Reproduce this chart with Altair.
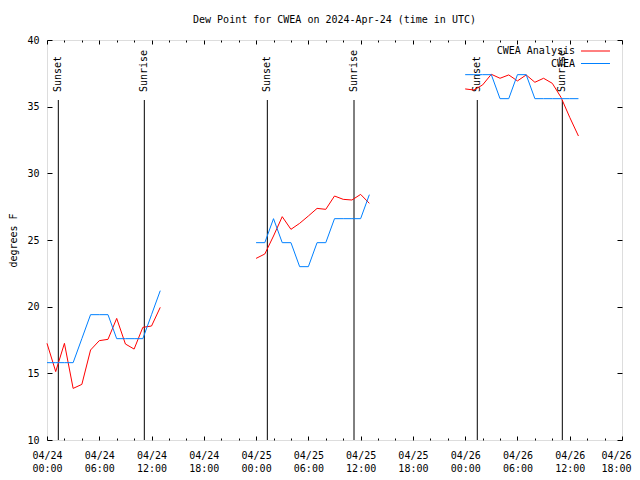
import altair as alt
import pandas as pd
import json

FONT = "DejaVu Sans Mono"

TITLE = "Dew Point for CWEA on 2024-Apr-24 (time in UTC)"
Y_TITLE = "degrees F"

SERIES_NAMES = ["CWEA Analysis", "CWEA"]
SERIES_COLORS = ["#ff0000", "#0080ff"]

# hours since 2024-04-24 00:00 UTC
HOURS_DAY1 = list(range(0, 14))
HOURS_DAY2 = list(range(24, 38))
HOURS_DAY3 = list(range(48, 62))

ANALYSIS_DAY1 = [17.25, 15.13, 17.25, 13.87, 14.17, 16.75, 17.45, 17.55, 19.12, 17.2, 16.82, 18.45, 18.55, 19.95]
ANALYSIS_DAY2 = [23.62, 23.95, 25.3, 26.75, 25.8, 26.25, 26.8, 27.37, 27.3, 28.3, 28.05, 28.0, 28.42, 27.75]
ANALYSIS_DAY3 = [36.33, 36.25, 36.63, 37.43, 37.13, 37.38, 36.93, 37.38, 36.83, 37.13, 36.75, 35.7, 34.2, 32.8]

OBS_DAY1 = [15.8, 15.8, 15.8, 15.8, 17.6, 19.4, 19.4, 19.4, 17.6, 17.6, 17.6, 17.6, 19.4, 21.2]
OBS_DAY2 = [24.8, 24.8, 26.6, 24.8, 24.8, 23.0, 23.0, 24.8, 24.8, 26.6, 26.6, 26.6, 26.6, 28.4]
OBS_DAY3 = [37.4, 37.4, 37.4, 37.4, 35.6, 35.6, 37.4, 37.4, 35.6, 35.6, 35.6, 35.6, 35.6, 35.6]

EVENT_NAMES = ["Sunset", "Sunrise", "Sunset", "Sunrise", "Sunset", "Sunrise"]
EVENT_HOURS = [1.30, 11.17, 25.29, 35.24, 49.39, 59.15]

X_MAJOR = list(range(0, 67, 6))
X_MINOR = [h for h in range(0, 67, 2) if h % 6]
X_DATES = ["04/24"] * 4 + ["04/25"] * 4 + ["04/26"] * 4
X_TIMES = ["00:00", "06:00", "12:00", "18:00"] * 3
Y_TICKS = [10, 15, 20, 25, 30, 35, 40]

WIDTH, HEIGHT = 575, 400
X_MAJ_TICK, X_MIN_TICK, Y_TICK = 4, 2, 5

rows = []
for seg, (hrs, vals) in enumerate(zip([HOURS_DAY1, HOURS_DAY2, HOURS_DAY3],
                                      [ANALYSIS_DAY1, ANALYSIS_DAY2, ANALYSIS_DAY3])):
    for h, v in zip(hrs, vals):
        rows.append({"hour": h, "value": v, "series": SERIES_NAMES[0], "segment": seg})
df_red = pd.DataFrame(rows)
rows = []
for seg, (hrs, vals) in enumerate(zip([HOURS_DAY1, HOURS_DAY2, HOURS_DAY3],
                                      [OBS_DAY1, OBS_DAY2, OBS_DAY3])):
    for h, v in zip(hrs, vals):
        rows.append({"hour": h, "value": v, "series": SERIES_NAMES[1], "segment": seg})
df_blue = pd.DataFrame(rows)
df_events = pd.DataFrame({"hour": EVENT_HOURS, "name": EVENT_NAMES})

xs = alt.Scale(domain=[0, 66], nice=False, zero=False)
ys = alt.Scale(domain=[10, 40], nice=False, zero=False)
cs = alt.Scale(domain=SERIES_NAMES, range=SERIES_COLORS)

label_expr = "[{d}[round(datum.value/6)], {t}[round(datum.value/6)]]".format(
    d=json.dumps(X_DATES), t=json.dumps(X_TIMES))
last_tick = "datum.value == {}".format(X_MAJOR[-1])

common_tick = dict(domain=False, grid=False, tickColor="black", tickWidth=1, title=None)

ax_bottom_major = alt.Axis(orient="bottom", values=X_MAJOR, offset=-X_MAJ_TICK,
                           tickSize=X_MAJ_TICK,
                           labelExpr=label_expr, labelFont=FONT, labelFontSize=10,
                           labelColor="black", labelPadding=10, labelFlush=False,
                           labelOverlap=False, labelBound=False, labelLineHeight=13,
                           labelAlign={"condition": {"test": last_tick, "value": "right"},
                                       "value": "center"},
                           labelOffset={"condition": {"test": last_tick, "value": 9},
                                        "value": 0},
                           **common_tick)
ax_bottom_minor = alt.Axis(orient="bottom", values=X_MINOR, offset=-X_MIN_TICK,
                           tickSize=X_MIN_TICK, labels=False, **common_tick)
ax_top_major = alt.Axis(orient="top", values=X_MAJOR, offset=-X_MAJ_TICK,
                        tickSize=X_MAJ_TICK, labels=False, **common_tick)
ax_top_minor = alt.Axis(orient="top", values=X_MINOR, offset=-X_MIN_TICK,
                        tickSize=X_MIN_TICK, labels=False, **common_tick)
ax_left = alt.Axis(orient="left", values=Y_TICKS, offset=-Y_TICK, tickSize=Y_TICK,
                   domain=False, grid=False, tickColor="black", labelFont=FONT,
                   labelFontSize=10, labelColor="black", labelPadding=8,
                   labelFlush=False, labelOverlap=False, title=Y_TITLE, titleFont=FONT,
                   titleFontSize=10, titleFontWeight="normal", titleColor="black",
                   titleAngle=270, titleX=-34 - Y_TICK, titleY=HEIGHT / 2,
                   titleAlign="center", titleBaseline="middle")
ax_right = alt.Axis(orient="right", values=Y_TICKS, offset=-Y_TICK, tickSize=Y_TICK,
                    labels=False, **common_tick)

legend = alt.Legend(title=None, orient="none", legendX=543, legendY=5.5,
                    symbolType="M-3,0H3", symbolSize=93.4, symbolStrokeWidth=1,
                    labelAlign="right", labelOffset={"expr": "-26"}, labelFont=FONT,
                    labelFontSize=10, labelColor="black", rowPadding=1.5, padding=0)

rules = alt.Chart(df_events).mark_rule(color="black", strokeWidth=1).encode(
    x=alt.X("hour:Q", scale=xs, axis=ax_top_major),
    y=alt.value(HEIGHT),
    y2=alt.value(HEIGHT * 0.15),
)
texts = alt.Chart(df_events).mark_text(angle=270, align="left", baseline="middle",
                                       font=FONT, fontSize=10, color="black").encode(
    x=alt.X("hour:Q", scale=xs, axis=ax_top_minor),
    y=alt.value(HEIGHT * 0.13),
    text="name:N",
)
red = alt.Chart(df_red).mark_line(strokeWidth=1).encode(
    x=alt.X("hour:Q", scale=xs, axis=ax_bottom_major),
    y=alt.Y("value:Q", scale=ys, axis=ax_left),
    color=alt.Color("series:N", scale=cs, legend=legend),
    detail="segment:N",
)
blue = alt.Chart(df_blue).mark_line(strokeWidth=1).encode(
    x=alt.X("hour:Q", scale=xs, axis=ax_bottom_minor),
    y=alt.Y("value:Q", scale=ys, axis=ax_right),
    color=alt.Color("series:N", scale=cs, legend=legend),
    detail="segment:N",
)

chart = alt.layer(rules, texts, red, blue).resolve_axis(
    x="independent", y="independent"
).properties(
    width=WIDTH, height=HEIGHT,
    title=alt.TitleParams(text=TITLE, font=FONT, fontSize=10, fontWeight="normal",
                          color="black", anchor="middle", frame="group",
                          baseline="middle", offset=5),
    autosize=alt.AutoSizeParams(type="none"),
    padding={"left": 39, "top": 32, "right": 10, "bottom": 32},
).configure_view(stroke="black", strokeWidth=1).configure(background="white")

chart.save("out.html", embed_options={"renderer": "svg", "actions": False})
